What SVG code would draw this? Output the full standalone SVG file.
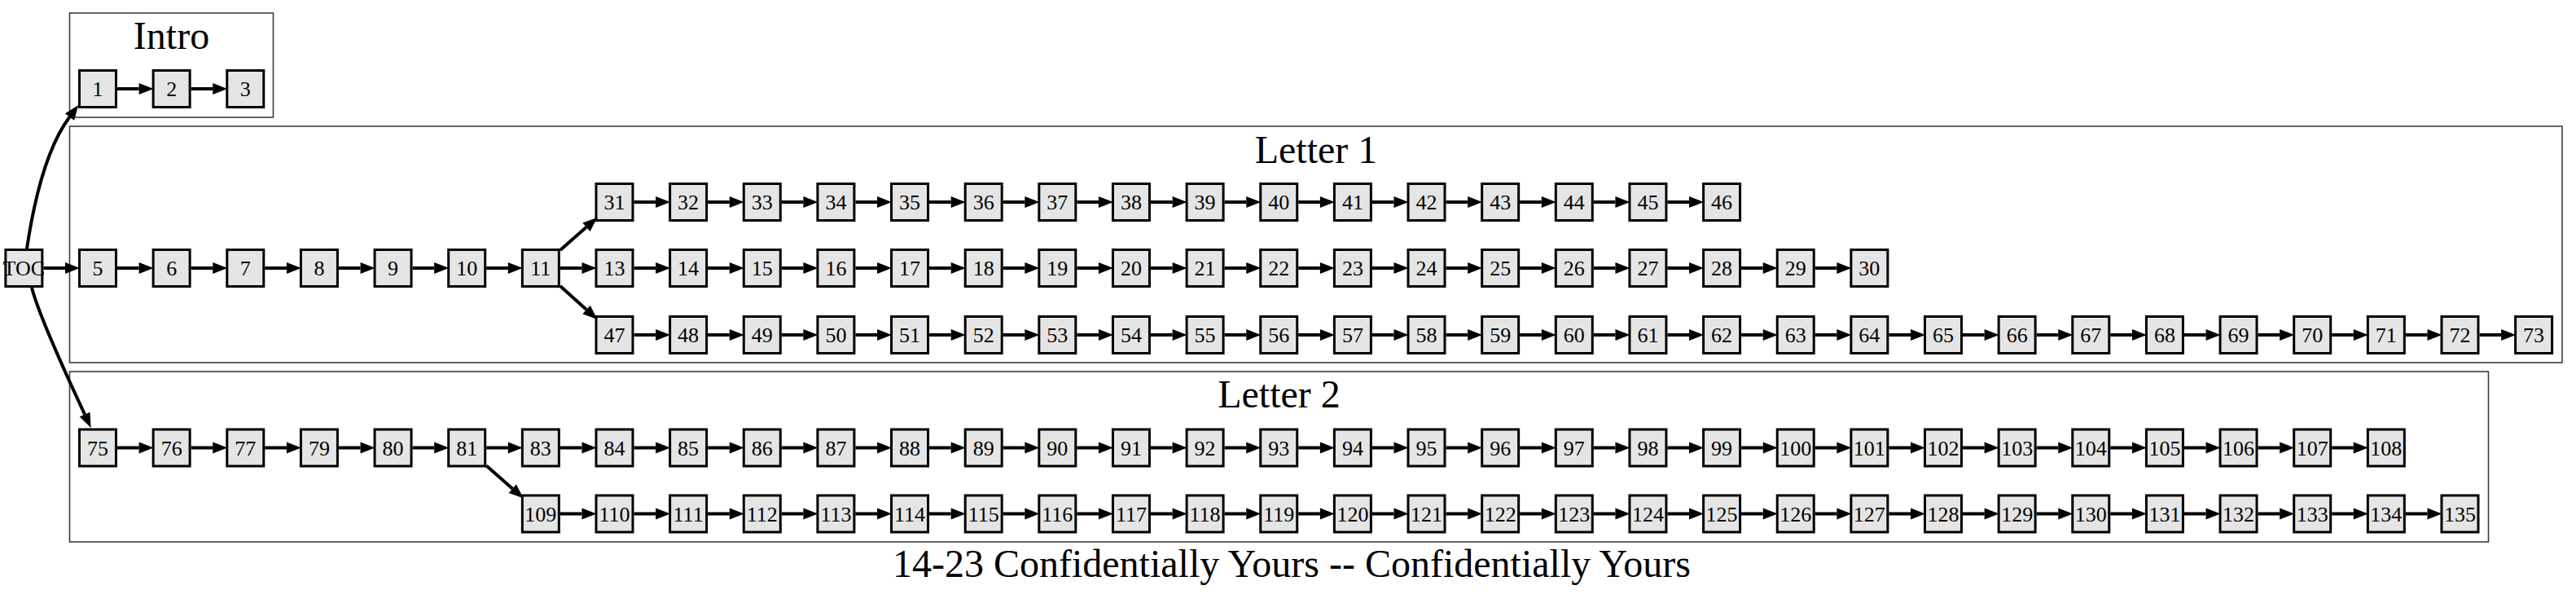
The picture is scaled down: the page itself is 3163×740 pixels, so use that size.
<svg xmlns="http://www.w3.org/2000/svg" width="3163" height="740" viewBox="0 0 3163 740">
<style>
.cl{fill:none;stroke:#3c3c3c;stroke-width:1.6}
.ct{font-family:"Liberation Serif",serif;font-size:48px;text-anchor:middle;fill:#000}
.node use{fill:#e5e5e5;stroke:#000;stroke-width:3}
.node text{font-family:"Liberation Serif",serif;font-size:26px;text-anchor:middle;fill:#000}
.e path{fill:none;stroke:#000;stroke-width:4;marker-end:url(#ah)}
</style>
<defs>
<marker id="ah" markerUnits="userSpaceOnUse" markerWidth="20" markerHeight="16" refX="0" refY="7" orient="auto" overflow="visible"><path d="M0,0 L18,7 L0,14 z" fill="#000" stroke="none"/></marker>
<rect id="box" x="-22.5" y="-22.5" width="45" height="45"/>
</defs>
<rect width="3163" height="740" fill="#fff"/>
<g id="clusters">
<g id="cluster-intro"><rect class="cl" x="85.5" y="16" width="250" height="128"/><text class="ct" x="210.5" y="60">Intro</text></g>
<g id="cluster-letter1"><rect class="cl" x="85.5" y="155" width="3060.5" height="290"/><text class="ct" x="1616" y="200">Letter 1</text></g>
<g id="cluster-letter2"><rect class="cl" x="85.5" y="456" width="2970" height="209"/><text class="ct" x="1570.5" y="500">Letter 2</text></g>
</g>
<g id="connectors" class="e">
<path d="M33,305 C42,245 58,180 85.5,143.5"/>
<path d="M39,353 C46,380 72,440 104.1,508.6"/>
<path d="M687.84,307 L719.94,278.86"/>
<path d="M687.84,351 L720.09,379.97"/>
<path d="M597.2,571.5 L629.3,599.64"/>
<path d="M144,109H170.64"/><path d="M234.64,109H261.28"/>
<path d="M53.36,329H80"/><path d="M144,329H170.64"/><path d="M234.64,329H261.28"/><path d="M325.28,329H351.92"/><path d="M415.92,329H442.56"/><path d="M506.56,329H533.2"/><path d="M597.2,329H623.84"/><path d="M687.84,329H714.48"/><path d="M778.48,329H805.12"/><path d="M869.12,329H895.76"/><path d="M959.76,329H986.4"/><path d="M1050.4,329H1077.04"/><path d="M1141.04,329H1167.68"/><path d="M1231.68,329H1258.32"/><path d="M1322.32,329H1348.96"/><path d="M1412.96,329H1439.6"/><path d="M1503.6,329H1530.24"/><path d="M1594.24,329H1620.88"/><path d="M1684.88,329H1711.52"/><path d="M1775.52,329H1802.16"/><path d="M1866.16,329H1892.8"/><path d="M1956.8,329H1983.44"/><path d="M2047.44,329H2074.08"/><path d="M2138.08,329H2164.72"/><path d="M2228.72,329H2255.36"/>
<path d="M778.48,248H805.12"/><path d="M869.12,248H895.76"/><path d="M959.76,248H986.4"/><path d="M1050.4,248H1077.04"/><path d="M1141.04,248H1167.68"/><path d="M1231.68,248H1258.32"/><path d="M1322.32,248H1348.96"/><path d="M1412.96,248H1439.6"/><path d="M1503.6,248H1530.24"/><path d="M1594.24,248H1620.88"/><path d="M1684.88,248H1711.52"/><path d="M1775.52,248H1802.16"/><path d="M1866.16,248H1892.8"/><path d="M1956.8,248H1983.44"/><path d="M2047.44,248H2074.08"/>
<path d="M778.48,411H805.12"/><path d="M869.12,411H895.76"/><path d="M959.76,411H986.4"/><path d="M1050.4,411H1077.04"/><path d="M1141.04,411H1167.68"/><path d="M1231.68,411H1258.32"/><path d="M1322.32,411H1348.96"/><path d="M1412.96,411H1439.6"/><path d="M1503.6,411H1530.24"/><path d="M1594.24,411H1620.88"/><path d="M1684.88,411H1711.52"/><path d="M1775.52,411H1802.16"/><path d="M1866.16,411H1892.8"/><path d="M1956.8,411H1983.44"/><path d="M2047.44,411H2074.08"/><path d="M2138.08,411H2164.72"/><path d="M2228.72,411H2255.36"/><path d="M2319.36,411H2346"/><path d="M2410,411H2436.64"/><path d="M2500.64,411H2527.28"/><path d="M2591.28,411H2617.92"/><path d="M2681.92,411H2708.56"/><path d="M2772.56,411H2799.2"/><path d="M2863.2,411H2889.84"/><path d="M2953.84,411H2980.48"/><path d="M3044.48,411H3071.12"/>
<path d="M144,549.5H170.64"/><path d="M234.64,549.5H261.28"/><path d="M325.28,549.5H351.92"/><path d="M415.92,549.5H442.56"/><path d="M506.56,549.5H533.2"/><path d="M597.2,549.5H623.84"/><path d="M687.84,549.5H714.48"/><path d="M778.48,549.5H805.12"/><path d="M869.12,549.5H895.76"/><path d="M959.76,549.5H986.4"/><path d="M1050.4,549.5H1077.04"/><path d="M1141.04,549.5H1167.68"/><path d="M1231.68,549.5H1258.32"/><path d="M1322.32,549.5H1348.96"/><path d="M1412.96,549.5H1439.6"/><path d="M1503.6,549.5H1530.24"/><path d="M1594.24,549.5H1620.88"/><path d="M1684.88,549.5H1711.52"/><path d="M1775.52,549.5H1802.16"/><path d="M1866.16,549.5H1892.8"/><path d="M1956.8,549.5H1983.44"/><path d="M2047.44,549.5H2074.08"/><path d="M2138.08,549.5H2164.72"/><path d="M2228.72,549.5H2255.36"/><path d="M2319.36,549.5H2346"/><path d="M2410,549.5H2436.64"/><path d="M2500.64,549.5H2527.28"/><path d="M2591.28,549.5H2617.92"/><path d="M2681.92,549.5H2708.56"/><path d="M2772.56,549.5H2799.2"/><path d="M2863.2,549.5H2889.84"/>
<path d="M687.84,630.5H714.48"/><path d="M778.48,630.5H805.12"/><path d="M869.12,630.5H895.76"/><path d="M959.76,630.5H986.4"/><path d="M1050.4,630.5H1077.04"/><path d="M1141.04,630.5H1167.68"/><path d="M1231.68,630.5H1258.32"/><path d="M1322.32,630.5H1348.96"/><path d="M1412.96,630.5H1439.6"/><path d="M1503.6,630.5H1530.24"/><path d="M1594.24,630.5H1620.88"/><path d="M1684.88,630.5H1711.52"/><path d="M1775.52,630.5H1802.16"/><path d="M1866.16,630.5H1892.8"/><path d="M1956.8,630.5H1983.44"/><path d="M2047.44,630.5H2074.08"/><path d="M2138.08,630.5H2164.72"/><path d="M2228.72,630.5H2255.36"/><path d="M2319.36,630.5H2346"/><path d="M2410,630.5H2436.64"/><path d="M2500.64,630.5H2527.28"/><path d="M2591.28,630.5H2617.92"/><path d="M2681.92,630.5H2708.56"/><path d="M2772.56,630.5H2799.2"/><path d="M2863.2,630.5H2889.84"/><path d="M2953.84,630.5H2980.48"/>
</g>
<g id="nodes">
<g id="nTOC" class="node" transform="translate(29.36,329)"><use href="#box"/><text y="9">TOC</text></g>
<g id="n1" class="node" transform="translate(120,109)"><use href="#box"/><text y="9">1</text></g>
<g id="n2" class="node" transform="translate(210.64,109)"><use href="#box"/><text y="9">2</text></g>
<g id="n3" class="node" transform="translate(301.28,109)"><use href="#box"/><text y="9">3</text></g>
<g id="n5" class="node" transform="translate(120,329)"><use href="#box"/><text y="9">5</text></g>
<g id="n6" class="node" transform="translate(210.64,329)"><use href="#box"/><text y="9">6</text></g>
<g id="n7" class="node" transform="translate(301.28,329)"><use href="#box"/><text y="9">7</text></g>
<g id="n8" class="node" transform="translate(391.92,329)"><use href="#box"/><text y="9">8</text></g>
<g id="n9" class="node" transform="translate(482.56,329)"><use href="#box"/><text y="9">9</text></g>
<g id="n10" class="node" transform="translate(573.2,329)"><use href="#box"/><text y="9">10</text></g>
<g id="n11" class="node" transform="translate(663.84,329)"><use href="#box"/><text y="9">11</text></g>
<g id="n13" class="node" transform="translate(754.48,329)"><use href="#box"/><text y="9">13</text></g>
<g id="n14" class="node" transform="translate(845.12,329)"><use href="#box"/><text y="9">14</text></g>
<g id="n15" class="node" transform="translate(935.76,329)"><use href="#box"/><text y="9">15</text></g>
<g id="n16" class="node" transform="translate(1026.4,329)"><use href="#box"/><text y="9">16</text></g>
<g id="n17" class="node" transform="translate(1117.04,329)"><use href="#box"/><text y="9">17</text></g>
<g id="n18" class="node" transform="translate(1207.68,329)"><use href="#box"/><text y="9">18</text></g>
<g id="n19" class="node" transform="translate(1298.32,329)"><use href="#box"/><text y="9">19</text></g>
<g id="n20" class="node" transform="translate(1388.96,329)"><use href="#box"/><text y="9">20</text></g>
<g id="n21" class="node" transform="translate(1479.6,329)"><use href="#box"/><text y="9">21</text></g>
<g id="n22" class="node" transform="translate(1570.24,329)"><use href="#box"/><text y="9">22</text></g>
<g id="n23" class="node" transform="translate(1660.88,329)"><use href="#box"/><text y="9">23</text></g>
<g id="n24" class="node" transform="translate(1751.52,329)"><use href="#box"/><text y="9">24</text></g>
<g id="n25" class="node" transform="translate(1842.16,329)"><use href="#box"/><text y="9">25</text></g>
<g id="n26" class="node" transform="translate(1932.8,329)"><use href="#box"/><text y="9">26</text></g>
<g id="n27" class="node" transform="translate(2023.44,329)"><use href="#box"/><text y="9">27</text></g>
<g id="n28" class="node" transform="translate(2114.08,329)"><use href="#box"/><text y="9">28</text></g>
<g id="n29" class="node" transform="translate(2204.72,329)"><use href="#box"/><text y="9">29</text></g>
<g id="n30" class="node" transform="translate(2295.36,329)"><use href="#box"/><text y="9">30</text></g>
<g id="n31" class="node" transform="translate(754.48,248)"><use href="#box"/><text y="9">31</text></g>
<g id="n32" class="node" transform="translate(845.12,248)"><use href="#box"/><text y="9">32</text></g>
<g id="n33" class="node" transform="translate(935.76,248)"><use href="#box"/><text y="9">33</text></g>
<g id="n34" class="node" transform="translate(1026.4,248)"><use href="#box"/><text y="9">34</text></g>
<g id="n35" class="node" transform="translate(1117.04,248)"><use href="#box"/><text y="9">35</text></g>
<g id="n36" class="node" transform="translate(1207.68,248)"><use href="#box"/><text y="9">36</text></g>
<g id="n37" class="node" transform="translate(1298.32,248)"><use href="#box"/><text y="9">37</text></g>
<g id="n38" class="node" transform="translate(1388.96,248)"><use href="#box"/><text y="9">38</text></g>
<g id="n39" class="node" transform="translate(1479.6,248)"><use href="#box"/><text y="9">39</text></g>
<g id="n40" class="node" transform="translate(1570.24,248)"><use href="#box"/><text y="9">40</text></g>
<g id="n41" class="node" transform="translate(1660.88,248)"><use href="#box"/><text y="9">41</text></g>
<g id="n42" class="node" transform="translate(1751.52,248)"><use href="#box"/><text y="9">42</text></g>
<g id="n43" class="node" transform="translate(1842.16,248)"><use href="#box"/><text y="9">43</text></g>
<g id="n44" class="node" transform="translate(1932.8,248)"><use href="#box"/><text y="9">44</text></g>
<g id="n45" class="node" transform="translate(2023.44,248)"><use href="#box"/><text y="9">45</text></g>
<g id="n46" class="node" transform="translate(2114.08,248)"><use href="#box"/><text y="9">46</text></g>
<g id="n47" class="node" transform="translate(754.48,411)"><use href="#box"/><text y="9">47</text></g>
<g id="n48" class="node" transform="translate(845.12,411)"><use href="#box"/><text y="9">48</text></g>
<g id="n49" class="node" transform="translate(935.76,411)"><use href="#box"/><text y="9">49</text></g>
<g id="n50" class="node" transform="translate(1026.4,411)"><use href="#box"/><text y="9">50</text></g>
<g id="n51" class="node" transform="translate(1117.04,411)"><use href="#box"/><text y="9">51</text></g>
<g id="n52" class="node" transform="translate(1207.68,411)"><use href="#box"/><text y="9">52</text></g>
<g id="n53" class="node" transform="translate(1298.32,411)"><use href="#box"/><text y="9">53</text></g>
<g id="n54" class="node" transform="translate(1388.96,411)"><use href="#box"/><text y="9">54</text></g>
<g id="n55" class="node" transform="translate(1479.6,411)"><use href="#box"/><text y="9">55</text></g>
<g id="n56" class="node" transform="translate(1570.24,411)"><use href="#box"/><text y="9">56</text></g>
<g id="n57" class="node" transform="translate(1660.88,411)"><use href="#box"/><text y="9">57</text></g>
<g id="n58" class="node" transform="translate(1751.52,411)"><use href="#box"/><text y="9">58</text></g>
<g id="n59" class="node" transform="translate(1842.16,411)"><use href="#box"/><text y="9">59</text></g>
<g id="n60" class="node" transform="translate(1932.8,411)"><use href="#box"/><text y="9">60</text></g>
<g id="n61" class="node" transform="translate(2023.44,411)"><use href="#box"/><text y="9">61</text></g>
<g id="n62" class="node" transform="translate(2114.08,411)"><use href="#box"/><text y="9">62</text></g>
<g id="n63" class="node" transform="translate(2204.72,411)"><use href="#box"/><text y="9">63</text></g>
<g id="n64" class="node" transform="translate(2295.36,411)"><use href="#box"/><text y="9">64</text></g>
<g id="n65" class="node" transform="translate(2386,411)"><use href="#box"/><text y="9">65</text></g>
<g id="n66" class="node" transform="translate(2476.64,411)"><use href="#box"/><text y="9">66</text></g>
<g id="n67" class="node" transform="translate(2567.28,411)"><use href="#box"/><text y="9">67</text></g>
<g id="n68" class="node" transform="translate(2657.92,411)"><use href="#box"/><text y="9">68</text></g>
<g id="n69" class="node" transform="translate(2748.56,411)"><use href="#box"/><text y="9">69</text></g>
<g id="n70" class="node" transform="translate(2839.2,411)"><use href="#box"/><text y="9">70</text></g>
<g id="n71" class="node" transform="translate(2929.84,411)"><use href="#box"/><text y="9">71</text></g>
<g id="n72" class="node" transform="translate(3020.48,411)"><use href="#box"/><text y="9">72</text></g>
<g id="n73" class="node" transform="translate(3111.12,411)"><use href="#box"/><text y="9">73</text></g>
<g id="n75" class="node" transform="translate(120,549.5)"><use href="#box"/><text y="9">75</text></g>
<g id="n76" class="node" transform="translate(210.64,549.5)"><use href="#box"/><text y="9">76</text></g>
<g id="n77" class="node" transform="translate(301.28,549.5)"><use href="#box"/><text y="9">77</text></g>
<g id="n79" class="node" transform="translate(391.92,549.5)"><use href="#box"/><text y="9">79</text></g>
<g id="n80" class="node" transform="translate(482.56,549.5)"><use href="#box"/><text y="9">80</text></g>
<g id="n81" class="node" transform="translate(573.2,549.5)"><use href="#box"/><text y="9">81</text></g>
<g id="n83" class="node" transform="translate(663.84,549.5)"><use href="#box"/><text y="9">83</text></g>
<g id="n84" class="node" transform="translate(754.48,549.5)"><use href="#box"/><text y="9">84</text></g>
<g id="n85" class="node" transform="translate(845.12,549.5)"><use href="#box"/><text y="9">85</text></g>
<g id="n86" class="node" transform="translate(935.76,549.5)"><use href="#box"/><text y="9">86</text></g>
<g id="n87" class="node" transform="translate(1026.4,549.5)"><use href="#box"/><text y="9">87</text></g>
<g id="n88" class="node" transform="translate(1117.04,549.5)"><use href="#box"/><text y="9">88</text></g>
<g id="n89" class="node" transform="translate(1207.68,549.5)"><use href="#box"/><text y="9">89</text></g>
<g id="n90" class="node" transform="translate(1298.32,549.5)"><use href="#box"/><text y="9">90</text></g>
<g id="n91" class="node" transform="translate(1388.96,549.5)"><use href="#box"/><text y="9">91</text></g>
<g id="n92" class="node" transform="translate(1479.6,549.5)"><use href="#box"/><text y="9">92</text></g>
<g id="n93" class="node" transform="translate(1570.24,549.5)"><use href="#box"/><text y="9">93</text></g>
<g id="n94" class="node" transform="translate(1660.88,549.5)"><use href="#box"/><text y="9">94</text></g>
<g id="n95" class="node" transform="translate(1751.52,549.5)"><use href="#box"/><text y="9">95</text></g>
<g id="n96" class="node" transform="translate(1842.16,549.5)"><use href="#box"/><text y="9">96</text></g>
<g id="n97" class="node" transform="translate(1932.8,549.5)"><use href="#box"/><text y="9">97</text></g>
<g id="n98" class="node" transform="translate(2023.44,549.5)"><use href="#box"/><text y="9">98</text></g>
<g id="n99" class="node" transform="translate(2114.08,549.5)"><use href="#box"/><text y="9">99</text></g>
<g id="n100" class="node" transform="translate(2204.72,549.5)"><use href="#box"/><text y="9">100</text></g>
<g id="n101" class="node" transform="translate(2295.36,549.5)"><use href="#box"/><text y="9">101</text></g>
<g id="n102" class="node" transform="translate(2386,549.5)"><use href="#box"/><text y="9">102</text></g>
<g id="n103" class="node" transform="translate(2476.64,549.5)"><use href="#box"/><text y="9">103</text></g>
<g id="n104" class="node" transform="translate(2567.28,549.5)"><use href="#box"/><text y="9">104</text></g>
<g id="n105" class="node" transform="translate(2657.92,549.5)"><use href="#box"/><text y="9">105</text></g>
<g id="n106" class="node" transform="translate(2748.56,549.5)"><use href="#box"/><text y="9">106</text></g>
<g id="n107" class="node" transform="translate(2839.2,549.5)"><use href="#box"/><text y="9">107</text></g>
<g id="n108" class="node" transform="translate(2929.84,549.5)"><use href="#box"/><text y="9">108</text></g>
<g id="n109" class="node" transform="translate(663.84,630.5)"><use href="#box"/><text y="9">109</text></g>
<g id="n110" class="node" transform="translate(754.48,630.5)"><use href="#box"/><text y="9">110</text></g>
<g id="n111" class="node" transform="translate(845.12,630.5)"><use href="#box"/><text y="9">111</text></g>
<g id="n112" class="node" transform="translate(935.76,630.5)"><use href="#box"/><text y="9">112</text></g>
<g id="n113" class="node" transform="translate(1026.4,630.5)"><use href="#box"/><text y="9">113</text></g>
<g id="n114" class="node" transform="translate(1117.04,630.5)"><use href="#box"/><text y="9">114</text></g>
<g id="n115" class="node" transform="translate(1207.68,630.5)"><use href="#box"/><text y="9">115</text></g>
<g id="n116" class="node" transform="translate(1298.32,630.5)"><use href="#box"/><text y="9">116</text></g>
<g id="n117" class="node" transform="translate(1388.96,630.5)"><use href="#box"/><text y="9">117</text></g>
<g id="n118" class="node" transform="translate(1479.6,630.5)"><use href="#box"/><text y="9">118</text></g>
<g id="n119" class="node" transform="translate(1570.24,630.5)"><use href="#box"/><text y="9">119</text></g>
<g id="n120" class="node" transform="translate(1660.88,630.5)"><use href="#box"/><text y="9">120</text></g>
<g id="n121" class="node" transform="translate(1751.52,630.5)"><use href="#box"/><text y="9">121</text></g>
<g id="n122" class="node" transform="translate(1842.16,630.5)"><use href="#box"/><text y="9">122</text></g>
<g id="n123" class="node" transform="translate(1932.8,630.5)"><use href="#box"/><text y="9">123</text></g>
<g id="n124" class="node" transform="translate(2023.44,630.5)"><use href="#box"/><text y="9">124</text></g>
<g id="n125" class="node" transform="translate(2114.08,630.5)"><use href="#box"/><text y="9">125</text></g>
<g id="n126" class="node" transform="translate(2204.72,630.5)"><use href="#box"/><text y="9">126</text></g>
<g id="n127" class="node" transform="translate(2295.36,630.5)"><use href="#box"/><text y="9">127</text></g>
<g id="n128" class="node" transform="translate(2386,630.5)"><use href="#box"/><text y="9">128</text></g>
<g id="n129" class="node" transform="translate(2476.64,630.5)"><use href="#box"/><text y="9">129</text></g>
<g id="n130" class="node" transform="translate(2567.28,630.5)"><use href="#box"/><text y="9">130</text></g>
<g id="n131" class="node" transform="translate(2657.92,630.5)"><use href="#box"/><text y="9">131</text></g>
<g id="n132" class="node" transform="translate(2748.56,630.5)"><use href="#box"/><text y="9">132</text></g>
<g id="n133" class="node" transform="translate(2839.2,630.5)"><use href="#box"/><text y="9">133</text></g>
<g id="n134" class="node" transform="translate(2929.84,630.5)"><use href="#box"/><text y="9">134</text></g>
<g id="n135" class="node" transform="translate(3020.48,630.5)"><use href="#box"/><text y="9">135</text></g>
</g>
<text id="title" class="ct" x="1586" y="708">14-23 Confidentially Yours -- Confidentially Yours</text>
</svg>
